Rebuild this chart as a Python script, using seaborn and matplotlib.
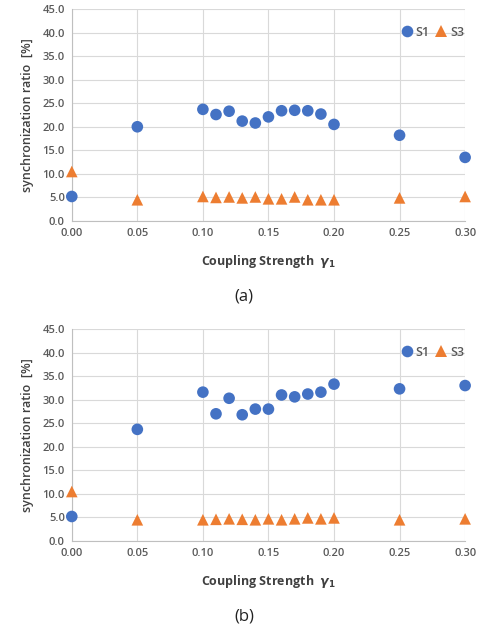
import numpy as np
import pandas as pd
import matplotlib
matplotlib.use("Agg")
import matplotlib.pyplot as plt
import seaborn as sns

gamma = [0.00, 0.05, 0.10, 0.11, 0.12, 0.13, 0.14, 0.15, 0.16, 0.17, 0.18, 0.19, 0.20, 0.25, 0.30]
s1_a = [5.2, 20.0, 23.7, 22.6, 23.3, 21.2, 20.8, 22.1, 23.4, 23.5, 23.4, 22.7, 20.5, 18.2, 13.5]
s3_a = [10.5, 4.5, 5.2, 5.0, 5.1, 4.9, 5.1, 4.7, 4.7, 5.1, 4.5, 4.5, 4.5, 4.9, 5.2]
s1_b = [5.2, 23.7, 31.6, 27.0, 30.3, 26.8, 28.0, 28.0, 31.0, 30.6, 31.2, 31.6, 33.3, 32.3, 33.0]
s3_b = [10.5, 4.5, 4.5, 4.6, 4.7, 4.6, 4.5, 4.7, 4.5, 4.7, 4.9, 4.7, 4.9, 4.5, 4.7]
panels = ["(a)", "(b)"]
xticks = [0.00, 0.05, 0.10, 0.15, 0.20, 0.25, 0.30]
yticks = [0, 5, 10, 15, 20, 25, 30, 35, 40, 45]

sns.set_theme(style="whitegrid")
plt.rcParams['font.family'] = ['Open Sans', 'DejaVu Sans']

fig = plt.figure(figsize=(4.85, 6.26), dpi=100)
axes_pos = [[0.148, 0.647, 0.811, 0.3386], [0.148, 0.1358, 0.811, 0.3386]]
palette = {"S1": "#4472C4", "S3": "#ED7D31"}
markers = {"S1": "o", "S3": "^"}

for pos, s1, s3, lab in zip(axes_pos, [s1_a, s1_b], [s3_a, s3_b], panels):
    ax = fig.add_axes(pos)
    df = pd.DataFrame({
        "gamma": gamma * 2,
        "ratio": s1 + s3,
        "series": ["S1"] * len(gamma) + ["S3"] * len(gamma),
    })
    sns.scatterplot(data=df, x="gamma", y="ratio", hue="series", style="series",
                    palette=palette, markers=markers, s=70, linewidth=0, ax=ax,
                    clip_on=False, zorder=3)
    ax.set_xlim(0, 0.30)
    ax.set_ylim(0, 45)
    ax.set_xticks(xticks)
    ax.set_xticklabels([f"{v:.2f}" for v in xticks])
    ax.set_yticks(yticks)
    ax.set_yticklabels([f"{v:.1f}" for v in yticks])
    ax.tick_params(axis='both', labelsize=8, colors='#595959', length=0, pad=5)
    for t in ax.get_xticklabels() + ax.get_yticklabels():
        t.set_fontweight('semibold')
    ax.grid(True, color='#D9D9D9', linewidth=0.8)
    for sp in ['top', 'right']:
        ax.spines[sp].set_visible(False)
    for sp in ['left', 'bottom']:
        ax.spines[sp].set_color('#BFBFBF')
        ax.spines[sp].set_linewidth(0.8)
    ax.set_xlabel(r"Coupling Strength  $\boldsymbol{\gamma}_{\mathbf{1}}$", fontsize=9,
                  fontweight='bold', color='#404040', labelpad=10)
    ax.set_ylabel("synchronization ratio  [%]", fontsize=9, fontweight='semibold',
                  color='#404040', labelpad=6)
    leg = ax.legend(loc='upper right', bbox_to_anchor=(1.01, 0.945), ncol=2, frameon=False,
                    handlelength=0.8, handletextpad=0.3, columnspacing=0.5, markerscale=1.0,
                    borderaxespad=0, prop={'size': 9, 'weight': 'semibold'})
    for t in leg.get_texts():
        t.set_color('#595959')
    fig.text(pos[0] + pos[2] / 2 - 0.05, pos[1] - 0.12, lab, ha='center', va='center',
             fontsize=12, color='#222222')

fig.savefig("out.png", dpi=100)
